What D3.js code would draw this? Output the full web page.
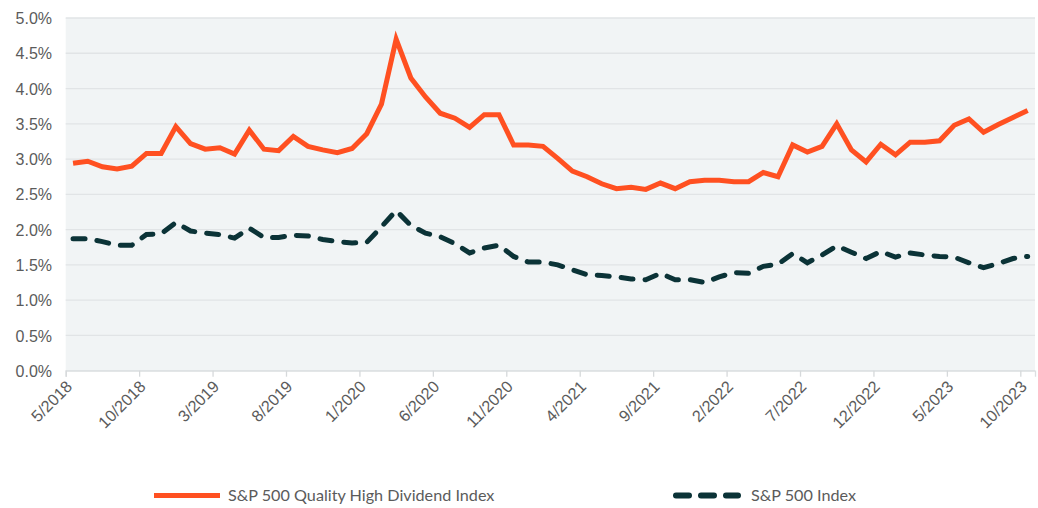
<!DOCTYPE html>
<html>
<head>
<meta charset="utf-8">
<script src="https://cdn.jsdelivr.net/npm/d3@7"></script>
<style>
  html, body { margin: 0; padding: 0; background: #ffffff; }
  svg { display: block; font-family: Lato, "Open Sans", sans-serif; }
</style>
</head>
<body>
<svg id="chart" width="1038" height="508"></svg>
<script>
const months = [
  "5/2018","6/2018","7/2018","8/2018","9/2018","10/2018","11/2018","12/2018",
  "1/2019","2/2019","3/2019","4/2019","5/2019","6/2019","7/2019","8/2019","9/2019","10/2019","11/2019","12/2019",
  "1/2020","2/2020","3/2020","4/2020","5/2020","6/2020","7/2020","8/2020","9/2020","10/2020","11/2020","12/2020",
  "1/2021","2/2021","3/2021","4/2021","5/2021","6/2021","7/2021","8/2021","9/2021","10/2021","11/2021","12/2021",
  "1/2022","2/2022","3/2022","4/2022","5/2022","6/2022","7/2022","8/2022","9/2022","10/2022","11/2022","12/2022",
  "1/2023","2/2023","3/2023","4/2023","5/2023","6/2023","7/2023","8/2023","9/2023","10/2023"
];
const tickLabels = ["5/2018","10/2018","3/2019","8/2019","1/2020","6/2020","11/2020","4/2021","9/2021","2/2022","7/2022","12/2022","5/2023","10/2023"];
const yTicks = [0,0.5,1.0,1.5,2.0,2.5,3.0,3.5,4.0,4.5,5.0];

const qualityHighDividend = [
  2.94,2.97,2.89,2.86,2.90,3.08,3.08,3.46,3.22,3.14,3.16,3.07,3.41,3.14,3.12,3.32,3.18,3.13,3.09,3.15,
  3.36,3.78,4.70,4.15,3.88,3.65,3.58,3.45,3.63,3.63,3.20,3.20,3.18,3.01,2.83,2.75,2.65,2.58,2.60,2.57,
  2.66,2.58,2.68,2.70,2.70,2.68,2.68,2.81,2.75,3.20,3.10,3.18,3.50,3.13,2.96,3.21,3.06,3.24,3.24,3.26,
  3.48,3.57,3.38,3.49,3.59,3.69
];
const sp500 = [
  1.87,1.87,1.83,1.78,1.78,1.93,1.94,2.10,1.98,1.95,1.93,1.88,2.02,1.89,1.89,1.92,1.91,1.86,1.83,1.81,
  1.82,2.04,2.27,2.06,1.95,1.90,1.80,1.67,1.74,1.78,1.62,1.54,1.54,1.50,1.43,1.36,1.35,1.33,1.30,1.29,
  1.38,1.29,1.29,1.25,1.33,1.39,1.38,1.48,1.51,1.66,1.53,1.64,1.77,1.68,1.59,1.69,1.61,1.67,1.64,1.62,
  1.61,1.53,1.46,1.52,1.59,1.62
];

const seriesNames = ["S&P 500 Quality High Dividend Index", "S&P 500 Index"];

const svg = d3.select("#chart");
const plotL = 65.7, plotR = 1035, plotT = 18, plotB = 370.7;

const x = d3.scaleLinear().domain([0, months.length]).range([plotL, plotR]);
const y = d3.scaleLinear().domain([0, 5]).range([plotB, plotT]);

// plot background
svg.append("rect")
  .attr("x", plotL).attr("y", plotT)
  .attr("width", plotR - plotL).attr("height", plotB - plotT)
  .attr("fill", "#f1f4f5");

// gridlines
svg.append("g").selectAll("line").data(yTicks).join("line")
  .attr("x1", plotL).attr("x2", plotR)
  .attr("y1", d => y(d)).attr("y2", d => y(d))
  .attr("stroke", "#e1e4e6").attr("stroke-width", 1.3);

// y axis labels
const yAxis = d3.axisLeft(y).tickValues(yTicks).tickFormat(d => d.toFixed(1) + "%").tickSize(0).tickPadding(0);
const gy = svg.append("g").attr("transform", `translate(${52},0)`).call(yAxis);
gy.select(".domain").remove();
gy.selectAll("text").attr("fill", "#5b5b5b").style("font-size", "16px").attr("dy", "0.35em");

// x axis
const tickIdx = tickLabels.map(l => months.indexOf(l));
const xAxis = d3.axisBottom(x).tickValues(tickIdx).tickFormat(i => months[i]).tickSize(6).tickPadding(0);
const gx = svg.append("g").attr("transform", `translate(0,${plotB})`).call(xAxis);
gx.select(".domain").attr("stroke", "#dcdfe1").attr("stroke-width", 1.3);
gx.selectAll(".tick line").attr("stroke", "#d6d9db").attr("stroke-width", 1.3);
gx.selectAll("text")
  .attr("fill", "#5b5b5b").style("font-size", "16.3px")
  .attr("text-anchor", "end")
  .attr("dy", "0")
  .attr("y", 0)
  .attr("transform", "translate(7,17) rotate(-45)");

// lines
const line = d3.line().x((d, i) => x(i + 0.5)).y(d => y(d));

svg.append("path").datum(qualityHighDividend)
  .attr("d", line).attr("fill", "none")
  .attr("stroke", "#ff5021").attr("stroke-width", 5)
  .attr("stroke-linejoin", "miter");

svg.append("path").datum(sp500)
  .attr("d", line).attr("fill", "none")
  .attr("stroke", "#0b3337").attr("stroke-width", 5)
  .attr("stroke-dasharray", "12 12")
  .attr("stroke-linecap", "round");

// legend
const leg = svg.append("g");
leg.append("line").attr("x1", 154).attr("x2", 220).attr("y1", 495.5).attr("y2", 495.5)
  .attr("stroke", "#ff5021").attr("stroke-width", 5);
leg.append("text").attr("x", 228).attr("y", 495.5).attr("dy", "0.35em")
  .attr("fill", "#5b5b5b").style("font-size", "16.2px").text(seriesNames[0]);
leg.append("line").attr("x1", 676).attr("x2", 738).attr("y1", 495.5).attr("y2", 495.5)
  .attr("stroke", "#0b3337").attr("stroke-width", 6)
  .attr("stroke-dasharray", "13 12").attr("stroke-linecap", "round");
leg.append("text").attr("x", 751).attr("y", 495.5).attr("dy", "0.35em")
  .attr("fill", "#5b5b5b").style("font-size", "16.2px").text(seriesNames[1]);
</script>
</body>
</html>
